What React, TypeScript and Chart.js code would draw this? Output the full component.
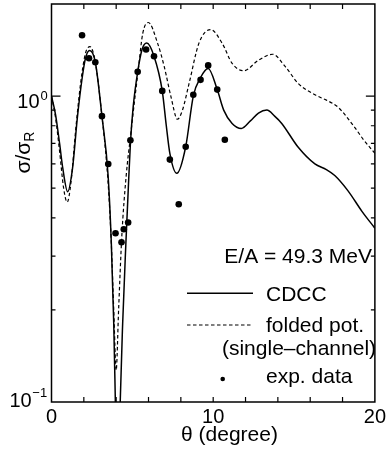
import React, { useEffect, useRef } from 'react';
import { Chart, registerables } from 'chart.js';
Chart.register(...registerables);

const FONT = "'Liberation Sans', Arial, Helvetica, sans-serif";

// CDCC (solid line)
const cdccTheta = [0, 0.25, 0.5, 0.7, 1.0, 1.3, 1.6, 1.9, 2.1, 2.36, 2.71, 3.12, 3.5, 3.7, 3.85, 3.95, 4.1, 4.25, 4.4, 4.6, 4.75, 4.88, 5.05, 5.33, 5.6, 5.89, 6.34, 6.85, 7.1, 7.32, 7.75, 8.3, 8.77, 9.22, 9.69, 10.25, 10.65, 11.17, 11.74, 12.3, 12.8, 13.32, 13.8, 14.24, 15.26, 16.29, 17.0, 17.52, 18.34, 19.2, 20];
const cdccSigma = [1.0, 0.87, 0.70, 0.58, 0.487, 0.58, 0.85, 1.15, 1.33, 1.41, 1.29, 0.86, 0.55, 0.33, 0.18, 0.1, 0.04, 0.1, 0.18, 0.33, 0.5, 0.7, 0.92, 1.2, 1.42, 1.49, 1.35, 1.04, 0.8, 0.65, 0.559, 0.683, 1.0, 1.15, 1.23, 1.05, 0.90, 0.814, 0.784, 0.83, 0.88, 0.90, 0.86, 0.814, 0.68, 0.60, 0.575, 0.55, 0.49, 0.42, 0.37];

// folded potential, single-channel (dashed line)
const foldTheta = [0, 0.25, 0.5, 0.75, 0.97, 1.2, 1.5, 1.8, 2.1, 2.38, 2.7, 3.1, 3.49, 3.7, 3.85, 4.0, 4.15, 4.35, 4.62, 4.9, 5.02, 5.39, 5.64, 5.99, 6.56, 6.97, 7.38, 7.79, 8.1, 8.51, 9.12, 9.84, 10.55, 11.17, 11.89, 12.8, 13.67, 14.45, 15.26, 16.29, 17.0, 17.72, 18.75, 19.3, 20];
const foldSigma = [1.0, 0.85, 0.66, 0.5, 0.45, 0.52, 0.78, 1.1, 1.38, 1.45, 1.3, 0.88, 0.53, 0.33, 0.2, 0.127, 0.2, 0.35, 0.55, 0.75, 0.855, 1.25, 1.6, 1.74, 1.49, 1.25, 1.0, 0.84, 0.9, 1.10, 1.49, 1.65, 1.49, 1.28, 1.21, 1.31, 1.37, 1.25, 1.10, 1.01, 0.97, 0.92, 0.79, 0.72, 0.65];

// experimental data
const expTheta = [1.89, 2.32, 2.71, 3.12, 3.51, 3.96, 4.33, 4.47, 4.74, 4.88, 5.33, 5.85, 6.34, 6.85, 7.32, 7.87, 8.30, 8.77, 9.22, 9.69, 10.25, 10.72];
const expSigma = [1.58, 1.33, 1.29, 0.86, 0.60, 0.356, 0.333, 0.367, 0.386, 0.717, 1.20, 1.42, 1.35, 1.04, 0.62, 0.443, 0.683, 1.01, 1.13, 1.26, 1.05, 0.72];

const xTickMarks = [2, 4, 6, 8, 10, 12, 14, 16, 18];
const yMinorTicks = [0.2, 0.3, 0.4, 0.5, 0.6, 0.7, 0.8, 0.9];
const yMajorTicks = [1];
const xTitle = 'θ (degree)';
const energyLabel = 'E/A = 49.3 MeV';
const legendCdcc = 'CDCC';
const legendFold1 = 'folded pot.';
const legendFold2 = '(single–channel)';
const legendExp = 'exp. data';

const toXY = (xs: number[], ys: number[]) => xs.map((x, i) => ({ x, y: ys[i] }));

const overlay = {
  id: 'overlay',
  afterDraw(chart: any) {
    const ctx = chart.ctx as CanvasRenderingContext2D;
    const { left, top, right, bottom } = chart.chartArea;
    const xs = chart.scales.x;
    const ys = chart.scales.y;
    ctx.save();
    ctx.strokeStyle = '#000';
    ctx.fillStyle = '#000';
    ctx.lineWidth = 1.5;
    ctx.strokeRect(left, top, right - left, bottom - top);
    ctx.lineWidth = 1.2;
    ctx.beginPath();
    for (const t of xTickMarks) {
      const px = xs.getPixelForValue(t);
      ctx.moveTo(px, bottom); ctx.lineTo(px, bottom - 5);
      ctx.moveTo(px, top); ctx.lineTo(px, top + 5);
    }
    for (const v of yMinorTicks) {
      const py = ys.getPixelForValue(v);
      ctx.moveTo(left, py); ctx.lineTo(left + 4, py);
      ctx.moveTo(right, py); ctx.lineTo(right - 4, py);
    }
    for (const v of yMajorTicks) {
      const py = ys.getPixelForValue(v);
      ctx.moveTo(left, py); ctx.lineTo(left + 9, py);
      ctx.moveTo(right, py); ctx.lineTo(right - 9, py);
    }
    ctx.stroke();

    // y tick labels
    const p1 = ys.getPixelForValue(1);
    ctx.textBaseline = 'alphabetic';
    ctx.font = `20px ${FONT}`;
    ctx.textAlign = 'right';
    ctx.fillText('10', 39.5, p1 + 12.3);
    ctx.font = `13px ${FONT}`;
    ctx.textAlign = 'left';
    ctx.fillText('0', 40.5, p1 + 3.5);
    const p01 = ys.getPixelForValue(0.1);
    ctx.font = `20px ${FONT}`;
    ctx.textAlign = 'right';
    ctx.fillText('10', 31.7, p01 + 4.7);
    ctx.font = `13px ${FONT}`;
    ctx.textAlign = 'left';
    ctx.fillText('−1', 32.3, p01 - 5.5);

    // x title
    ctx.font = `21px ${FONT}`;
    ctx.textAlign = 'center';
    ctx.textBaseline = 'middle';
    ctx.fillText(xTitle, 229.5, 435.5);
    ctx.textBaseline = 'alphabetic';

    // y title  σ/σ_R
    ctx.save();
    ctx.translate(29.5, 152.5);
    ctx.rotate(-Math.PI / 2);
    ctx.font = `21px ${FONT}`;
    const mainW = ctx.measureText('σ/σ').width;
    ctx.font = `14px ${FONT}`;
    const subW = ctx.measureText('R').width;
    const start = -(mainW + subW) / 2;
    ctx.textAlign = 'left';
    ctx.font = `21px ${FONT}`;
    ctx.fillText('σ/σ', start, 0);
    ctx.font = `14px ${FONT}`;
    ctx.fillText('R', start + mainW, 4);
    ctx.restore();

    // legend
    ctx.font = `21px ${FONT}`;
    ctx.textAlign = 'right';
    ctx.fillText(energyLabel, 372, 262.7);
    ctx.textAlign = 'left';
    ctx.lineWidth = 1.5;
    ctx.setLineDash([]);
    ctx.beginPath(); ctx.moveTo(187, 293.3); ctx.lineTo(253, 293.3); ctx.stroke();
    ctx.fillText(legendCdcc, 266, 300.7);
    ctx.lineWidth = 1.2;
    ctx.setLineDash([3.5, 2.5]);
    ctx.beginPath(); ctx.moveTo(187, 325); ctx.lineTo(251, 325); ctx.stroke();
    ctx.setLineDash([]);
    ctx.fillText(legendFold1, 266, 331.7);
    ctx.textAlign = 'center';
    ctx.fillText(legendFold2, 299, 355);
    ctx.textAlign = 'left';
    ctx.fillText(legendExp, 266, 383.3);
    ctx.beginPath(); ctx.arc(222.7, 379, 2.3, 0, Math.PI * 2); ctx.fill();
    ctx.restore();
  },
};

export default function App() {
  const ref = useRef<HTMLCanvasElement | null>(null);
  useEffect(() => {
    if (!ref.current) return;
    Chart.defaults.font.family = FONT;
    Chart.defaults.color = '#000';
    const chart = new Chart(ref.current, {
      type: 'line',
      data: {
        datasets: [
          {
            label: legendCdcc,
            data: toXY(cdccTheta, cdccSigma),
            borderColor: '#000',
            borderWidth: 1.5,
            pointRadius: 0,
            fill: false,
            cubicInterpolationMode: 'monotone',
          },
          {
            label: legendFold1,
            data: toXY(foldTheta, foldSigma),
            borderColor: '#000',
            borderWidth: 1.2,
            borderDash: [3.5, 2.5],
            pointRadius: 0,
            fill: false,
            cubicInterpolationMode: 'monotone',
          },
          {
            label: legendExp,
            data: toXY(expTheta, expSigma),
            showLine: false,
            pointRadius: 3.3,
            pointBackgroundColor: '#000',
            pointBorderWidth: 0,
            borderColor: '#000',
            backgroundColor: '#000',
          },
        ],
      } as any,
      options: {
        responsive: false,
        animation: false,
        events: [],
        layout: { padding: { top: 3.5, right: 12, left: 0, bottom: 0 } },
        plugins: { legend: { display: false }, tooltip: { enabled: false }, title: { display: false } },
        scales: {
          x: {
            type: 'linear',
            min: 0,
            max: 20,
            position: 'bottom',
            afterFit: (s: any) => { s.height = 50; },
            grid: { display: false, drawTicks: false },
            border: { display: false },
            ticks: { stepSize: 10, padding: 3, maxRotation: 0, autoSkip: false, color: '#000', font: { size: 20, family: FONT } },
            title: { display: false },
          },
          y: {
            type: 'logarithmic',
            min: 0.1,
            max: 2,
            afterFit: (s: any) => { s.width = 51.5; },
            grid: { display: false, drawTicks: false },
            border: { display: false },
            ticks: { display: false },
          },
        },
      } as any,
      plugins: [overlay],
    });
    return () => chart.destroy();
  }, []);
  return (
    <div style={{ position: 'absolute', left: 0, top: 0, width: 389, height: 452, background: '#fff' }}>
      <canvas ref={ref} width={389} height={452} style={{ display: 'block' }} />
    </div>
  );
}
